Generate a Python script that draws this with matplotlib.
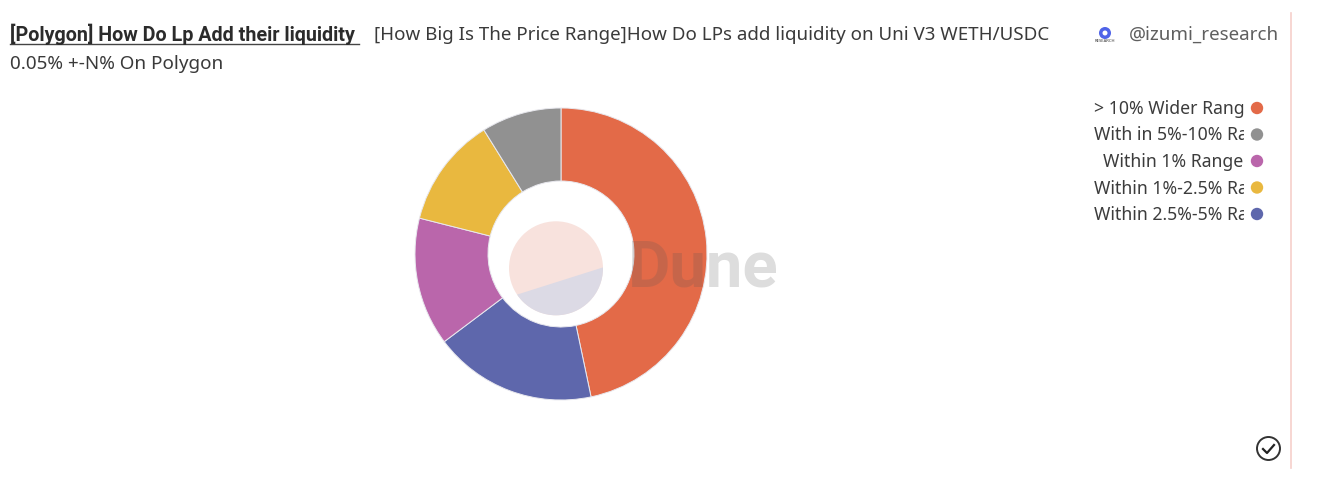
import matplotlib
matplotlib.use("Agg")
import matplotlib.pyplot as plt
from matplotlib.patches import Circle, Polygon, Rectangle

W, H = 1319, 482

# значения (доля кольца, %)
labels = ["> 10% Wider Range", "Within 2.5%-5% Range", "Within 1% Range",
          "Within 1%-2.5% Range", "With in 5%-10% Range"]
values = [46.7, 18.05, 14.2, 12.2, 8.85]
colors = ["#E36A48", "#5E67AC", "#BA66AB", "#E9B83F", "#919191"]

# порядок в легенде отличается от порядка секторов
legend_order = [0, 4, 2, 3, 1]
legend_ys = [108, 134.5, 161, 187.5, 214]

title_main = "[Polygon] How Do Lp Add their liquidity"
title_sub_1 = "[How Big Is The Price Range]How Do LPs add liquidity on Uni V3 WETH/USDC"
title_sub_2 = "0.05% +-N% On Polygon"

plt.rcParams["font.family"] = ["Noto Sans", "DejaVu Sans"]

fig = plt.figure(figsize=(W / 100, H / 100), dpi=100)
ax = fig.add_axes([0, 0, 1, 1])


def py(y):
    """Пиксель сверху -> координата оси"""
    return H - y


# Кольцо
ax.pie(values, colors=colors, startangle=90, counterclock=False,
       center=(561, py(254)), radius=146, frame=True,
       wedgeprops=dict(width=73, edgecolor="#E8E8EE", linewidth=0.7))

ax.set_xlim(0, W)
ax.set_ylim(0, H)
ax.set_aspect("equal")
ax.axis("off")

# Водяной знак Dune: круг с хордой и надпись
logo = Circle((556, py(268.3)), 47, fc="#F8E2DD", ec="none", zorder=5)
ax.add_patch(logo)
logo_low = Polygon([(500, py(300)), (620, py(262)), (620, py(330)), (500, py(330))],
                   fc="#DCDAE5", ec="none", zorder=5)
ax.add_patch(logo_low)
logo_low.set_clip_path(logo)
ax.text(628, py(269), "Dune", fontsize=47, fontweight="bold", family="Roboto",
        color="#555555", alpha=0.2, ha="left", va="center", zorder=5)

# Заголовок
ax.text(10, py(34), title_main, fontsize=14.2, fontweight="bold", family="Roboto",
        color="#2B2B2B", ha="left", va="center")
ax.plot([10, 359], [py(44), py(44)], color="#444444", lw=1)
ax.text(374, py(35), title_sub_1, fontsize=13.5, color="#3A3A3A", ha="left", va="center")
ax.text(10, py(64), title_sub_2, fontsize=13.6, color="#3A3A3A", ha="left", va="center")

# Логотип и автор
ax.add_patch(Circle((1105, py(33)), 6, fc="#4F63E8", ec="none"))
ax.add_patch(Circle((1105, py(33)), 2.5, fc="white", ec="none"))
ax.text(1105, py(41), "RESEARCH", fontsize=3, color="#333333", ha="center", va="center")
ax.text(1129, py(35), "@izumi_research", fontsize=13.5, color="#5F5F5F", ha="left", va="center")

# Легенда: подписи обрезаны по правому краю
clip = Rectangle((1060, 0), 183.5, H, transform=ax.transData)
for i, y in zip(legend_order, legend_ys):
    t = ax.text(1243 if i == 2 else 1094, py(y + 1), labels[i], fontsize=12.7, color="#3C3C3C",
                ha="right" if i == 2 else "left", va="center")
    t.set_clip_path(clip)
    t.set_clip_on(True)
    ax.add_patch(Circle((1257, py(y)), 6.2, fc=colors[i], ec="none"))

# Правая граница и значок
ax.plot([1291, 1291], [py(13), py(468)], color="#F6CFCB", lw=1.2)
ax.add_patch(Circle((1268.5, py(448.5)), 11.5, fc="none", ec="#333333", lw=1.4))
ax.plot([1263, 1267, 1274], [py(449), py(453), py(445)], color="#222222", lw=1.6)

fig.savefig("out.png", dpi=100, facecolor="white")
